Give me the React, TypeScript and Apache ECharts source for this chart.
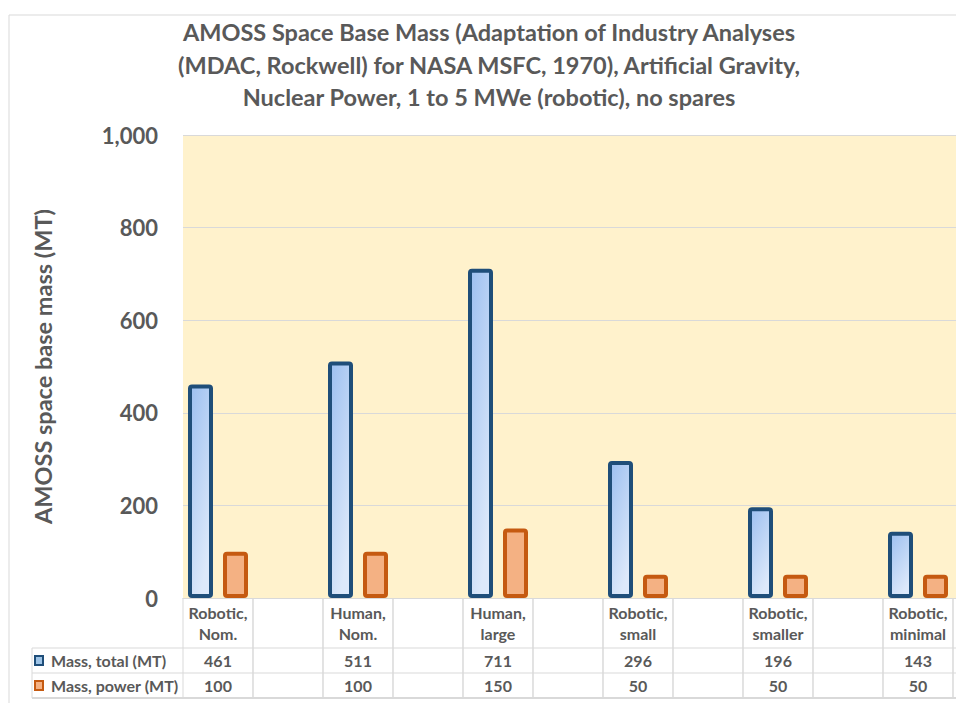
import React, { useEffect, useRef } from "react";
import * as echarts from "echarts";

const titleLines = [
  "AMOSS Space Base Mass (Adaptation of Industry Analyses",
  "(MDAC, Rockwell) for NASA MSFC, 1970), Artificial Gravity,",
  "Nuclear Power, 1 to 5 MWe (robotic), no spares",
];
const yAxisName = "AMOSS space base mass (MT)";
const categories = [
  "Robotic,\nNom.",
  "Human,\nNom.",
  "Human,\nlarge",
  "Robotic,\nsmall",
  "Robotic,\nsmaller",
  "Robotic,\nminimal",
];
const seriesNames = ["Mass, total (MT)", "Mass, power (MT)"];
const massTotal = [461, 511, 711, 296, 196, 143];
const massPower = [100, 100, 150, 50, 50, 50];
const yMin = 0;
const yMax = 1000;
const yInterval = 200;

const FONT = "Lato, 'Open Sans', sans-serif";
const TEXT = "#595959";
const LINE = "#d9d9d9";
const BLUE_BORDER = "#1f4e79";
const ORANGE_BORDER = "#c55a11";
const ORANGE_FILL = "#f4b183";
const BLUE_KEY = "#9dc3e6";

// each category occupies a slot followed by an empty slot (as in the original table)
const slots: string[] = categories.flatMap((c) => [c, ""]);
const slotTotal = massTotal.flatMap((v) => [v, "-"]);
const slotPower = massPower.flatMap((v) => [v, "-"]);

export default function App() {
  const ref = useRef<HTMLDivElement>(null);

  useEffect(() => {
    if (!ref.current) return;
    const chart = echarts.init(ref.current, null, { renderer: "svg" });

    const tableData = slots.map((_, i) => [i, 0]);

    const option: any = {
      animation: false,
      backgroundColor: "#ffffff",
      title: {
        text: titleLines.join("\n"),
        left: 489,
        top: 16,
        textAlign: "center",
        padding: 0,
        textStyle: {
          fontFamily: FONT,
          fontWeight: "bold",
          fontSize: 23.5,
          lineHeight: 32.5,
          color: TEXT,
        },
      },
      graphic: [
        {
          type: "rect",
          shape: { x: 9, y: 15, width: 1200, height: 900 },
          style: { fill: "none", stroke: LINE, lineWidth: 1 },
          silent: true,
          z: -10,
        },
      ],
      grid: [
        {
          left: 183,
          top: 135,
          width: 840,
          height: 463,
          show: true,
          backgroundColor: "#fff2cc",
          borderWidth: 0,
        },
        { left: 183, top: 598, width: 840, height: 100, show: false },
      ],
      xAxis: [
        {
          type: "category",
          gridIndex: 0,
          data: slots,
          axisLine: { show: true, lineStyle: { color: LINE, width: 1 } },
          axisTick: { show: false },
          axisLabel: { show: false },
          splitLine: { show: false },
        },
        {
          type: "category",
          gridIndex: 1,
          data: slots,
          show: false,
        },
      ],
      yAxis: [
        {
          type: "value",
          gridIndex: 0,
          min: yMin,
          max: yMax,
          interval: yInterval,
          name: yAxisName,
          nameLocation: "middle",
          nameGap: 128,
          nameTextStyle: {
            fontFamily: FONT,
            fontWeight: "bold",
            fontSize: 23.5,
            color: TEXT,
          },
          axisLine: { show: false },
          axisTick: { show: false },
          axisLabel: {
            margin: 25,
            fontFamily: FONT,
            fontWeight: "bold",
            fontSize: 22,
            color: TEXT,
            formatter: (v: number) => v.toLocaleString("en-US"),
          },
          splitLine: { show: true, lineStyle: { color: LINE, width: 1 } },
        },
        {
          type: "value",
          gridIndex: 1,
          min: 0,
          max: 4,
          show: false,
        },
      ],
      series: [
        {
          name: seriesNames[0],
          type: "bar",
          xAxisIndex: 0,
          yAxisIndex: 0,
          data: slotTotal,
          barWidth: 25,
          barGap: "40%",
          itemStyle: {
            color: {
              type: "linear",
              x: 0,
              y: 0,
              x2: 0.5,
              y2: 1,
              colorStops: [
                { offset: 0, color: "#9cbff0" },
                { offset: 1, color: "#dde9fa" },
              ],
            },
            borderColor: BLUE_BORDER,
            borderWidth: 4,
            borderRadius: 2,
          },
        },
        {
          name: seriesNames[1],
          type: "bar",
          xAxisIndex: 0,
          yAxisIndex: 0,
          data: slotPower,
          barWidth: 25,
          itemStyle: {
            color: ORANGE_FILL,
            borderColor: ORANGE_BORDER,
            borderWidth: 4,
            borderRadius: 2,
          },
        },
        {
          name: "table",
          type: "custom",
          xAxisIndex: 1,
          yAxisIndex: 1,
          data: tableData,
          encode: { x: 0, y: 1 },
          silent: true,
          renderItem: (params: any, api: any) => {
            const i = api.value(0) as number;
            const cx = api.coord([i, 0])[0];
            const yBottom = api.coord([i, 0])[1];
            const yMid = api.coord([i, 1])[1];
            const yHead = api.coord([i, 2])[1];
            const yTop = api.coord([i, 4])[1];
            const bw = api.size([1, 0])[0];
            const x0 = cx - bw / 2;
            const x1 = cx + bw / 2;
            const ln = (a: number, b: number, c: number, d: number, w = 1) => ({
              type: "line",
              shape: { x1: a, y1: b, x2: c, y2: d },
              style: { stroke: LINE, lineWidth: w },
            });
            const txt = (t: string, x: number, y: number, align = "center") => ({
              type: "text",
              style: {
                text: t,
                x,
                y,
                align,
                verticalAlign: "middle",
                fontFamily: FONT,
                fontWeight: "bold",
                fontSize: 16,
                lineHeight: 21,
                fill: TEXT,
              },
            });
            const children: any[] = [
              ln(x0, yTop, x0, yBottom),
              ln(x1, yTop, x1, yBottom),
              ln(x0, yHead, x1, yHead),
              ln(x0, yMid, x1, yMid),
              ln(x0, yBottom, x1, yBottom, 2),
            ];
            if (i % 2 === 0) {
              const k = i / 2;
              children.push(txt(categories[k], cx, (yTop + yHead) / 2));
              children.push(txt(String(massTotal[k]), cx, (yHead + yMid) / 2));
              children.push(txt(String(massPower[k]), cx, (yMid + yBottom) / 2));
            }
            if (i === 0) {
              const lx = x0 - 151;
              children.push(ln(lx, yHead, x0, yHead));
              children.push(ln(lx, yMid, x0, yMid));
              children.push(ln(lx, yBottom, x0, yBottom, 2));
              children.push(ln(lx, yHead, lx, yBottom));
              const keys = [
                { y: (yHead + yMid) / 2, fill: BLUE_KEY, stroke: BLUE_BORDER, label: seriesNames[0] },
                { y: (yMid + yBottom) / 2, fill: ORANGE_FILL, stroke: ORANGE_BORDER, label: seriesNames[1] },
              ];
              keys.forEach((kk) => {
                children.push({
                  type: "rect",
                  shape: { x: lx + 3, y: kk.y - 4.5, width: 8, height: 9 },
                  style: { fill: kk.fill, stroke: kk.stroke, lineWidth: 2 },
                });
                children.push(txt(kk.label, lx + 19, kk.y, "left"));
              });
            }
            return { type: "group", children };
          },
          z: 5,
        },
      ],
    };

    chart.setOption(option);
    return () => chart.dispose();
  }, []);

  return (
    <div
      style={{
        position: "absolute",
        left: 0,
        top: 0,
        width: 956,
        height: 703,
        overflow: "hidden",
      }}
    >
      <div ref={ref} style={{ width: 1040, height: 703 }} />
    </div>
  );
}
